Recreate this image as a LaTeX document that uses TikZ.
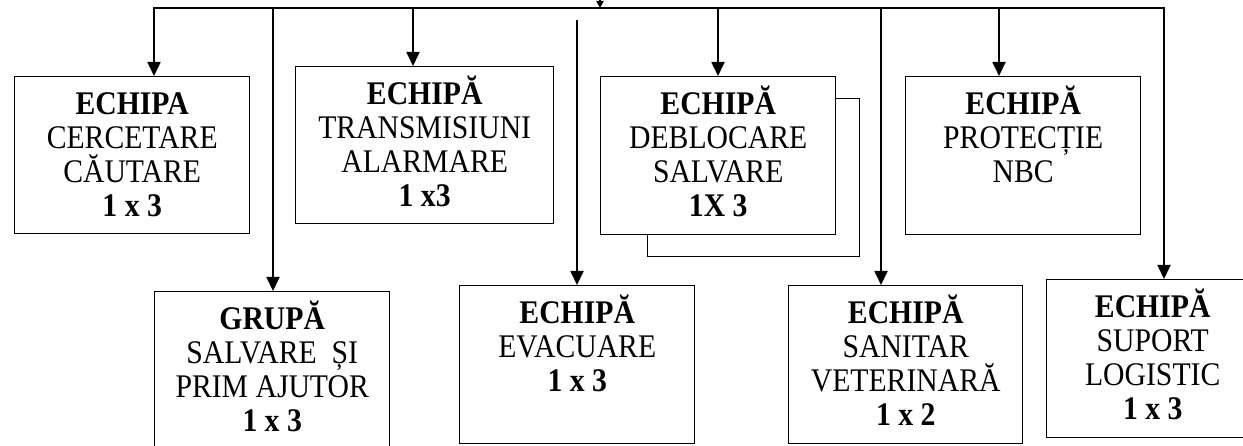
\documentclass[tikz,border=0pt]{standalone}
\usepackage{fontspec}
\setmainfont{Liberation Serif}[FakeStretch=0.9]
\usetikzlibrary{arrows.meta}
\newcommand{\teamlines}[3]{\parbox[t][#2][t]{#1}{\centering\fontsize{33}{34}\selectfont\rule{0pt}{37.5pt}#3}}

\begin{document}
\begin{tikzpicture}[x=1pt, y=-1pt,
    team/.style = {draw, line width=1.4pt, fill=white, inner sep=0pt, anchor=north west},
    link/.style = {line width=1.8pt},
    down/.style = {link, -{Triangle[length=14pt,width=13pt]}}]
    \useasboundingbox (0,0) rectangle (1243,446);
    \node[team] (cerc)   at (14,76)   {\teamlines{235pt}{157pt}{\textbf{ECHIPA}\\CERCETARE\\CĂUTARE\\\textbf{1 x 3}}};
    \node[team] (trans)  at (295,66)  {\teamlines{258pt}{157pt}{\textbf{ECHIPĂ}\\TRANSMISIUNI\\ALARMARE\\\textbf{1 x3}}};
    \node[team] (shadow) at (647,98)  {\teamlines{212pt}{158pt}{}};
    \node[team] (debl)   at (600,76)  {\teamlines{235pt}{158pt}{\textbf{ECHIPĂ}\\DEBLOCARE\\SALVARE\\\textbf{1X 3}}};
    \node[team] (prot)   at (905,76)  {\teamlines{235pt}{158pt}{\textbf{ECHIPĂ}\\PROTECȚIE\\NBC}};
    \node[team] (grupa)  at (154,291) {\teamlines{235pt}{160pt}{\textbf{GRUPĂ}\\SALVARE~ ȘI\\PRIM AJUTOR\\\textbf{1 x 3}}};
    \node[team] (evac)   at (459,285) {\teamlines{235pt}{158pt}{\textbf{ECHIPĂ}\\EVACUARE\\\textbf{1 x 3}}};
    \node[team] (sanit)  at (788,285) {\teamlines{234pt}{158pt}{\textbf{ECHIPĂ}\\SANITAR\\VETERINARĂ\\\textbf{1 x 2}}};
    \node[team] (suport) at (1046,279){\teamlines{212pt}{158pt}{\textbf{ECHIPĂ}\\SUPORT\\LOGISTIC\\\textbf{1 x 3}}};
    \coordinate (in)  at (600,-4);
    \coordinate (hub) at (600,8);
    \coordinate (b1)  at (154,8);
    \coordinate (b2)  at (273,8);
    \coordinate (b3)  at (413,8);
    \coordinate (ev)  at (577,20);
    \coordinate (b4)  at (718,8);
    \coordinate (b5)  at (881,8);
    \coordinate (b6)  at (999,8);
    \coordinate (b7)  at (1164,8);
    \draw[link, line cap=rect] (b1) -- (b7);
    \draw[link, -{Triangle[length=7pt,width=7pt]}] (in) -- (hub);
    \draw[down] (b1) -- (b1 |- cerc.north);
    \draw[down] (b2) -- (b2 |- grupa.north);
    \draw[down] (b3) -- (b3 |- trans.north);
    \draw[down] (ev) -- (ev |- evac.north);
    \draw[down] (b4) -- (b4 |- debl.north);
    \draw[down] (b5) -- (b5 |- sanit.north);
    \draw[down] (b6) -- (b6 |- prot.north);
    \draw[down] (b7) -- (b7 |- suport.north);
\end{tikzpicture}
\end{document}
